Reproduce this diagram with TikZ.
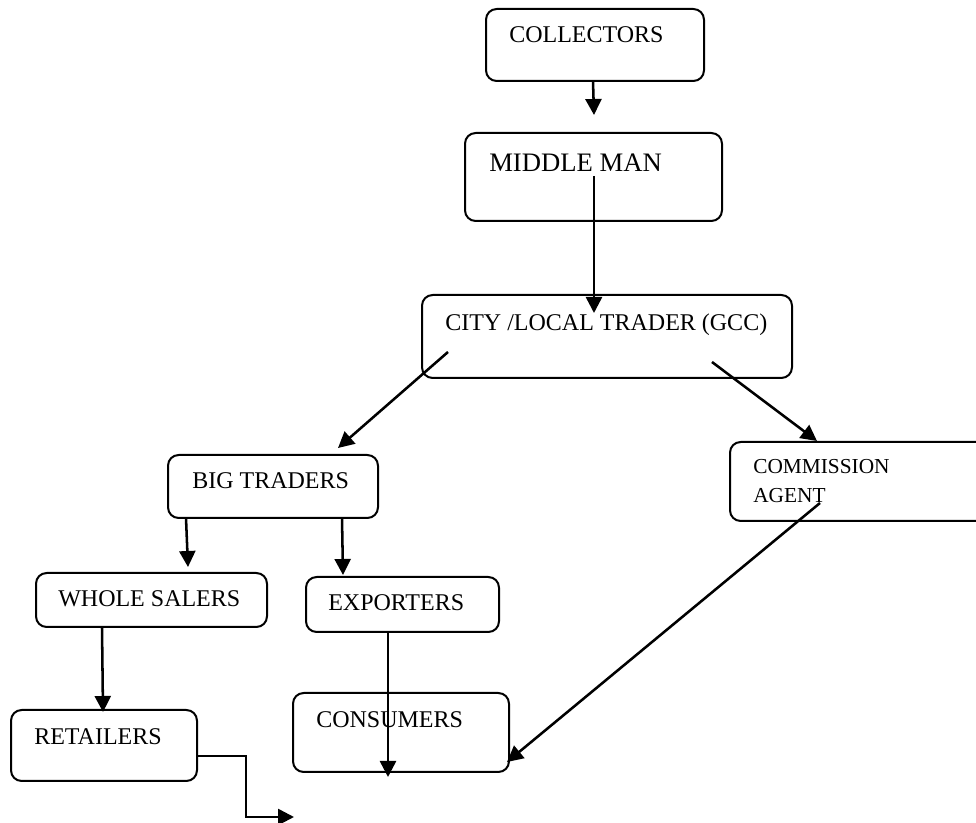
\documentclass[tikz,border=0pt]{standalone}
\usepackage{fontspec}
\setmainfont{Liberation Serif}
\usetikzlibrary{arrows.meta}
\begin{document}
\begin{tikzpicture}[x=0.75pt,y=-0.75pt,
  box/.style={draw, line width=1.5pt, rounded corners=8pt, inner sep=0pt, outer sep=0pt},
  lbl/.style={inner sep=0pt, anchor=base west, font=\fontsize{18pt}{20pt}\selectfont},
  flow/.style={line width=1.9pt, -{Triangle[length=12pt,width=12pt]}}]
\useasboundingbox (0,0) rectangle (976,823);
% boxes
\node[box, minimum width=163.5pt, minimum height=54pt] (coll) at (595,45) {};
\node[box, minimum width=192.75pt, minimum height=66pt] (mm) at (593.5,177) {};
\node[box, minimum width=277.5pt, minimum height=62.25pt] (city) at (607,336.5) {};
\node[box, minimum width=157.5pt, minimum height=47.25pt] (bt) at (273,486.5) {};
\node[box, minimum width=198.75pt, minimum height=59.25pt] (ca) at (862.5,481.5) {};
\node[box, minimum width=173.25pt, minimum height=40.5pt] (ws) at (151.5,600) {};
\node[box, minimum width=144.75pt, minimum height=41.25pt] (ex) at (402.5,604.5) {};
\node[box, minimum width=139.5pt, minimum height=53.25pt] (ret) at (104,745.5) {};
\node[box, minimum width=162pt, minimum height=59.25pt] (cons) at (401,732.5) {};
% labels
\node[lbl] (collt) at (509,43) {COLLECTORS};
\node[lbl, font=\fontsize{20pt}{22pt}\selectfont] (mmt) at (489,172) {MIDDLE MAN};
\node[lbl] (cityt) at (445,331) {CITY /LOCAL TRADER (GCC)};
\node[lbl] (btt) at (192,489) {BIG TRADERS};
\node[lbl, font=\fontsize{16pt}{18pt}\selectfont] (cat1) at (753,474) {COMMISSION};
\node[lbl, font=\fontsize{16pt}{18pt}\selectfont] (cat2) at (753,503) {AGENT};
\node[lbl] (wst) at (58,607) {WHOLE SALERS};
\node[lbl] (ext) at (328,611) {EXPORTERS};
\node[lbl] (rett) at (34,745) {RETAILERS};
\node[lbl] (const) at (316,728) {CONSUMERS};
% connector end points
\coordinate (a1s) at (593,81);   \coordinate (a1e) at (594,115);
\coordinate (a2s) at (594,176);  \coordinate (a2e) at (594,313);
\coordinate (a3s) at (448,352);  \coordinate (a3e) at (338,448);
\coordinate (a4s) at (712,362);  \coordinate (a4e) at (817,441);
\coordinate (a5s) at (186,518);  \coordinate (a5e) at (188,567);
\coordinate (a6s) at (342,518);  \coordinate (a6e) at (343,575);
\coordinate (a7s) at (102,627);  \coordinate (a7e) at (103,712);
\coordinate (a8s) at (388,632);  \coordinate (a8e) at (388,777);
\coordinate (a9s) at (820,503);  \coordinate (a9e) at (507,762);
\coordinate (a10s) at (198,756); \coordinate (a10e) at (294,817);
% connectors
\draw[flow] (a1s) -- (a1e);
\draw[flow] (a2s) -- (a2e);
\draw[flow] (a3s) -- (a3e);
\draw[flow] (a4s) -- (a4e);
\draw[flow] (a5s) -- (a5e);
\draw[flow] (a6s) -- (a6e);
\draw[flow] (a7s) -- (a7e);
\draw[flow] (a8s) -- (a8e);
\draw[flow] (a9s) -- (a9e);
\draw[flow] (a10s) -- (246,756) -- (246,817) -- (a10e);
\end{tikzpicture}
\end{document}
